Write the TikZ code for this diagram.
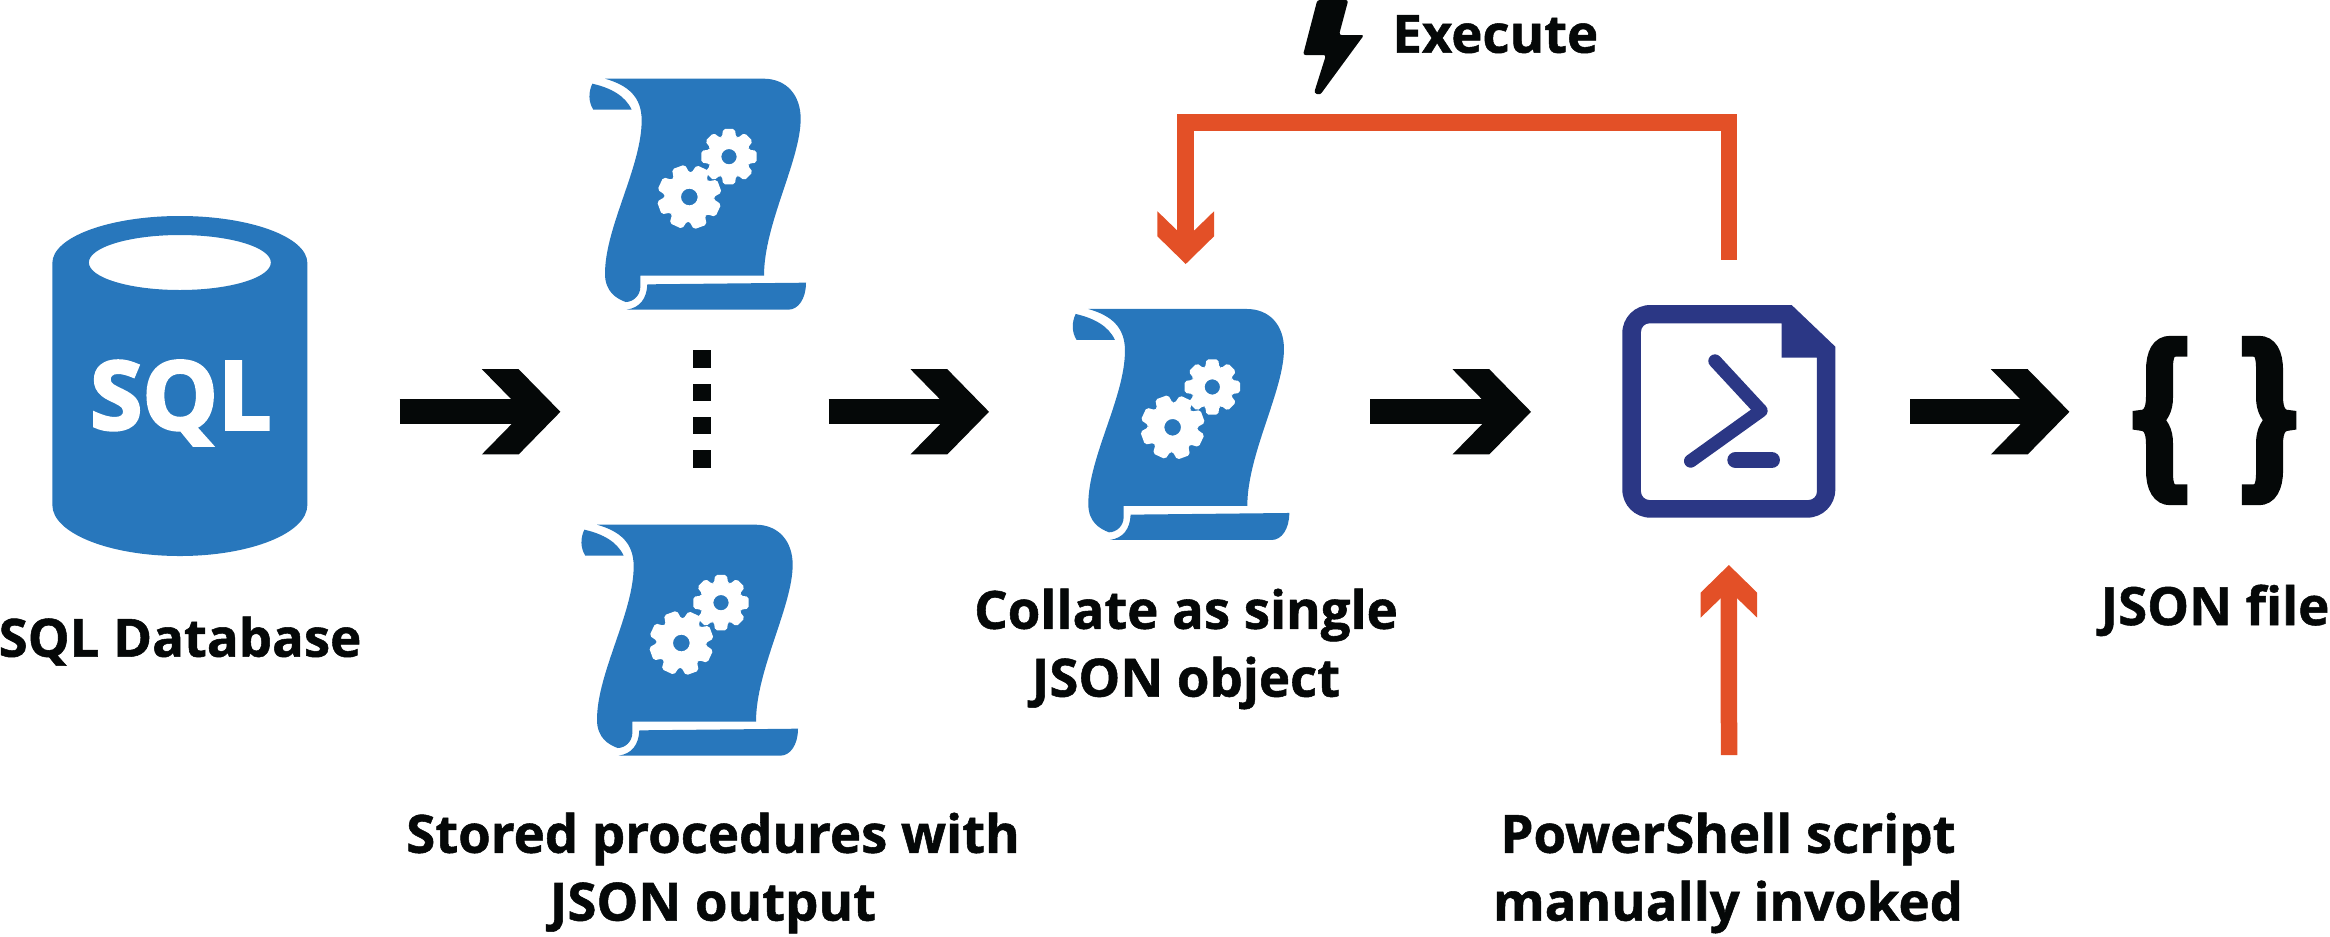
\documentclass[tikz,border=0pt]{standalone}
\usepackage{fontspec}
\setmainfont[BoldFeatures={FakeBold=1}]{Open Sans}
\newfontfamily\heavyfont[BoldFeatures={FakeBold=3}]{Open Sans}
\newfontfamily\bracefont[FakeBold=9,FakeStretch=0.69]{Liberation Serif}
\definecolor{iconblue}{HTML}{2877BC}
\definecolor{psnavy}{HTML}{2B3785}
\definecolor{loopred}{HTML}{E35027}
\definecolor{flowink}{HTML}{050808}
% block arrow tips, 1 px of the layout = 0.2mm
\pgfdeclarearrow{name=FlowTip,
	setup code={\pgfarrowssettipend{0pt}\pgfarrowssetlineend{-9mm}\pgfarrowssetbackend{-15.7mm}},
	drawing code={
		\pgfpathmoveto{\pgfpointorigin}
		\pgfpathlineto{\pgfpoint{-8.34mm}{8.52mm}}
		\pgfpathlineto{\pgfpoint{-15.7mm}{8.52mm}}
		\pgfpathlineto{\pgfpoint{-9.8mm}{2.5mm}}
		\pgfpathlineto{\pgfpoint{-9.8mm}{-2.5mm}}
		\pgfpathlineto{\pgfpoint{-15.7mm}{-8.52mm}}
		\pgfpathlineto{\pgfpoint{-8.34mm}{-8.52mm}}
		\pgfpathclose\pgfusepathqfill}}
\pgfdeclarearrow{name=LoopTip,
	setup code={\pgfarrowssettipend{0pt}\pgfarrowssetlineend{-6mm}\pgfarrowssetbackend{-10.54mm}},
	drawing code={
		\pgfpathmoveto{\pgfpointorigin}
		\pgfpathlineto{\pgfpoint{-5.54mm}{5.66mm}}
		\pgfpathlineto{\pgfpoint{-10.54mm}{5.66mm}}
		\pgfpathlineto{\pgfpoint{-6.66mm}{1.66mm}}
		\pgfpathlineto{\pgfpoint{-6.66mm}{-1.66mm}}
		\pgfpathlineto{\pgfpoint{-10.54mm}{-5.66mm}}
		\pgfpathlineto{\pgfpoint{-5.54mm}{-5.66mm}}
		\pgfpathclose\pgfusepathqfill}}
% cx, cy, outer radius, root radius, hole radius, phase
\newcommand\gearwheel[6]{
	\fill[white,even odd rule,rounded corners=0.4mm,shift={(#1,#2)}] (#6-20:#4)
		\foreach \t in {0,45,...,315} {-- ({\t+#6-20}:#4) -- ({\t+#6-12}:#3) -- ({\t+#6+12}:#3) -- ({\t+#6+20}:#4)} -- cycle
		(0,0) circle[radius=#5];
}
\tikzset{
	iconbox/.style={inner sep=0pt,outer sep=0pt,minimum width=#1},
	caption/.style={font=\bfseries\fontsize{30}{38.6}\selectfont,align=center,text=flowink,inner sep=0pt},
	flowarrow/.style={color=flowink,line width=5mm,-FlowTip},
	looparrow/.style={color=loopred,line width=3.3mm,-LoopTip},
	dotsq/.style={fill=flowink,inner sep=0pt,minimum size=3.47mm},
	scrollicon/.pic={
		\begin{scope}[x=0.06667mm,y=-0.06667mm,shift={(-87,-83)}]
			\fill[iconblue] (135,85) -- (610,85) .. controls (680,85) and (722,135) .. (722,205)
				.. controls (722,330) and (612,520) .. (612,676) -- (241,676) -- (241,710)
				.. controls (241,735) and (220,755) .. (197,755) .. controls (170,745) and (135,725) .. (135,670)
				.. controls (135,530) and (245,350) .. (245,210) .. controls (245,140) and (205,105) .. (135,85) -- cycle;
			\fill[iconblue] (97,100) .. controls (150,112) and (195,135) .. (215,178) -- (100,178)
				.. controls (85,155) and (85,125) .. (97,100) -- cycle;
			\fill[iconblue] (262,702) -- (738,697) .. controls (738,745) and (715,778) .. (685,778) -- (200,778)
				.. controls (240,772) and (260,745) .. (262,702) -- cycle;
			\gearwheel{507}{319}{85}{62}{23}{0}
			\gearwheel{388}{440}{98}{73}{25}{25}
		\end{scope}
	},
	dbicon/.pic={
		\fill[iconblue,even odd rule] (-127.5,-123) arc[start angle=180,end angle=0,x radius=25.5mm,y radius=9.4mm]
			-- (127.5,119) arc[start angle=0,end angle=-180,x radius=25.5mm,y radius=10.2mm] -- cycle
			(0,-123.5) ellipse[x radius=18.2mm,y radius=5.5mm];
	},
	psicon/.pic={
		\begin{scope}[x=0.06667mm,y=-0.06667mm,shift={(-187,-75)}]
			\fill[psnavy,even odd rule] [rounded corners=5.6mm] (187,400) -- (187,75) -- (400,75) [sharp corners] -- (695,75) -- (826,200) -- (826,400) [rounded corners=5.6mm] -- (826,713) -- (187,713) -- cycle
				[rounded corners=1.7mm] (243,400) -- (243,130) -- (400,130) [sharp corners] -- (665,130) -- (665,233) -- (771,233) -- (771,400) [rounded corners=1.7mm] -- (771,660) -- (243,660) -- cycle;
			\draw[psnavy,line width=2.67mm,line cap=round,line join=round] (465,243) -- (603,392) -- (392,543);
			\draw[psnavy,line width=3.33mm,line cap=round] (527,540) -- (635,540);
		\end{scope}
	}
}
\begin{document}
\begin{tikzpicture}[x=0.2mm,y=-0.2mm]
	\useasboundingbox (0,0) rectangle (2330,936);
	\coordinate (flowline) at (0,411.8);
	\coordinate (invoke) at (1729,755);
	\coordinate (loopleft) at (1185.7,122.4);

	% icons
	\node[iconbox=51mm,minimum height=68mm] (db) at (179.85,386) {};
	\node[iconbox=43.4mm,minimum height=46.2mm] (scrolla) at (697.5,193.5) {};
	\node[iconbox=43.4mm,minimum height=46.2mm] (scrollb) at (689.5,639.5) {};
	\node[iconbox=43.4mm,minimum height=46.2mm] (scrollc) at (1180.8,423.8) {};
	\node[iconbox=42.6mm,minimum height=42.54mm] (ps) at (1728.8,411.35) {};
	\pic at (db.center) {dbicon};
	\pic at (scrolla.north west) {scrollicon};
	\pic at (scrollb.north west) {scrollicon};
	\pic at (scrollc.north west) {scrollicon};
	\pic at (ps.north west) {psicon};
	\foreach \i/\y in {1/359,2/392.3,3/425.7,4/459} {
		\node[dotsq] (dot\i) at (702,\y) {};
	}
	\node[inner sep=0pt,text=white,font=\heavyfont\bfseries\fontsize{54}{54}\selectfont] (sqltext) at (180.8,403) {SQL};
	\node[iconbox=30.9mm,text=flowink,font=\bracefont\fontsize{105}{105}\selectfont] (braces) at (2214.5,420.5) {\{\hspace{9.6mm}\}};

	% captions
	\node[caption,anchor=base] (dbtext) at (180,656.7) {SQL Database};
	\node[caption] (proctext) at (713,873) {Stored procedures with\\JSON output};
	\node[caption] (collatetext) at (1186,649) {Collate as single\\JSON object};
	\node[caption] (pstext) at (1728,873) {PowerShell script\\manually invoked};
	\node[caption,anchor=base] (jsontext) at (2215,625) {JSON file};
	\node[caption,anchor=base west] (exectext) at (1392,52.7) {Execute};
	\fill[flowink,rounded corners=0.5mm] (1317.3,0) -- (1348.3,0) -- (1339,35) -- (1364,35) -- (1320,95) -- (1314,93) -- (1326,55) -- (1303,55) -- cycle;

	% flow
	\draw[flowarrow,shorten <=18.44mm,shorten >=26.52mm] (db.east |- flowline) -- (dot2.west |- flowline);
	\draw[flowarrow,shorten <=23.52mm,shorten >=16.66mm] (dot2.east |- flowline) -- (scrollc.west |- flowline);
	\draw[flowarrow,shorten <=16.14mm,shorten >=18.26mm] (scrollc.east |- flowline) -- (ps.west |- flowline);
	\draw[flowarrow,shorten <=14.94mm,shorten >=12mm] (ps.east |- flowline) -- (braces.west |- flowline);
	\draw[looparrow,shorten >=9.46mm] (invoke) -- (ps.south);
	\draw[looparrow,shorten <=9.06mm,shorten >=8.86mm] (ps.north) |- (loopleft) -- (loopleft |- scrollc.north);
\end{tikzpicture}
\end{document}
